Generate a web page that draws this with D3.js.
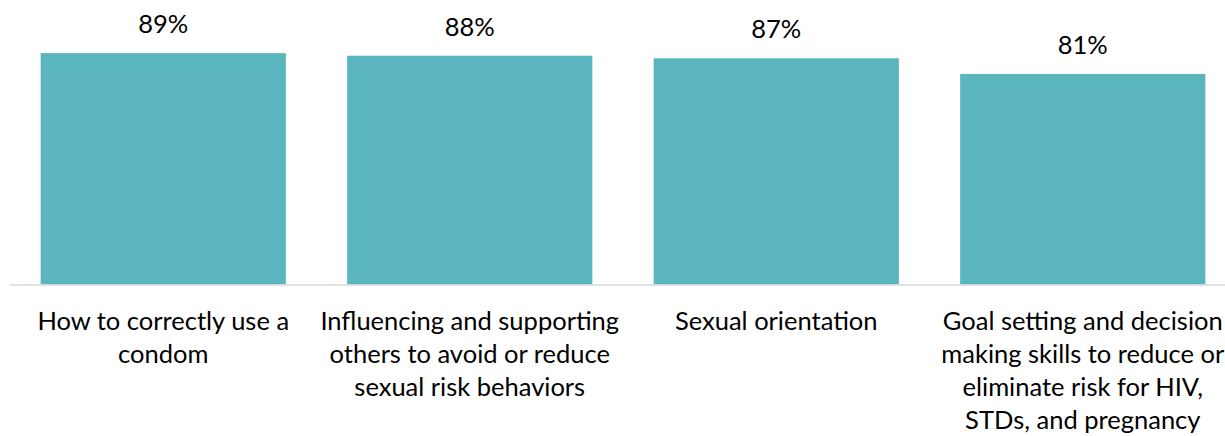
<!DOCTYPE html>
<html><head><meta charset="utf-8">
<script src="https://cdn.jsdelivr.net/npm/d3@7"></script>
<style>body{margin:0;background:#fff}svg{display:block}</style>
</head><body>
<svg id="c" width="1225" height="436"></svg>
<script>
const categories = [
  ["How to correctly use a", "condom"],
  ["Influencing and supporting", "others to avoid or reduce", "sexual risk behaviors"],
  ["Sexual orientation"],
  ["Goal setting and decision", "making skills to reduce or", "eliminate risk for HIV,", "STDs, and pregnancy"]
];
const values = [89, 88, 87, 81];
const valueLabels = ["89%", "88%", "87%", "81%"];

const svg = d3.select("#c");
const font = "Lato, sans-serif";
const ids = d3.range(values.length);
const x = d3.scaleBand().domain(ids).range([10, 1236]).paddingInner(0.2).paddingOuter(0.1);
const y = d3.scaleLinear().domain([0, 100]).range([284.5, 24.5]);

svg.selectAll("rect.bar").data(ids).join("rect")
  .attr("class", "bar")
  .attr("x", i => x(i)).attr("width", x.bandwidth())
  .attr("y", i => y(values[i])).attr("height", i => y(0) - y(values[i]))
  .attr("fill", "#5BB5BF");

svg.append("line").attr("x1", 10).attr("x2", 1225).attr("y1", y(0) + 0.5).attr("y2", y(0) + 0.5)
  .attr("stroke", "#d9d9d9").attr("stroke-width", 1.5);

svg.selectAll("text.val").data(ids).join("text")
  .attr("class", "val")
  .attr("x", i => x(i) + x.bandwidth() / 2).attr("y", i => y(values[i]) - 20)
  .attr("text-anchor", "middle").attr("font-family", font).attr("font-size", 25.5)
  .attr("fill", "#000").text(i => valueLabels[i]);

const lab = svg.selectAll("text.cat").data(ids).join("text")
  .attr("class", "cat")
  .attr("text-anchor", "middle").attr("font-family", font).attr("font-size", 25.5)
  .attr("fill", "#000");
lab.each(function(i) {
  const t = d3.select(this);
  categories[i].forEach((line, k) => {
    t.append("tspan").attr("x", x(i) + x.bandwidth() / 2).attr("y", 330 + k * 33).text(line);
  });
});
</script>
</body></html>
